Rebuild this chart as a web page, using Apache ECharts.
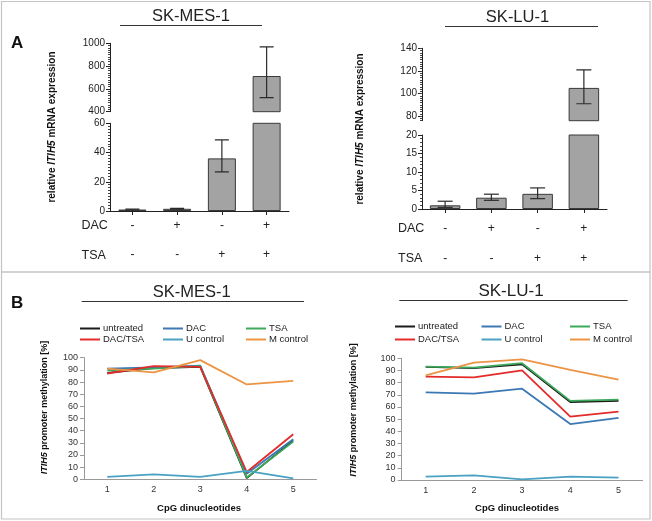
<!DOCTYPE html>
<html><head><meta charset="utf-8">
<script src="https://cdn.jsdelivr.net/npm/echarts@6/dist/echarts.min.js"></script>
<style>html,body{margin:0;padding:0;background:#fff}#c{width:652px;height:521px}</style>
</head><body><div id="c"></div>
<script>
// ---- Panel A data ----
const conditions = ['untreated', 'DAC', 'TSA', 'DAC/TSA'];
const dacRow = ['-', '+', '-', '+'];
const tsaRow = ['-', '-', '+', '+'];
const mesExpr = [1.0, 1.5, 36, 713];
const mesErrLow = [0.7, 1.2, 26.7, 523];
const mesErrHigh = [1.3, 1.8, 48.6, 968];
const luExpr = [1.0, 3.05, 4.1, 105];
const luErrLow = [0.45, 2.35, 2.8, 91];
const luErrHigh = [2.1, 4.0, 5.7, 121];
const luUpperLabels = [80, 100, 120, 140];

// ---- Panel B data ----
const cpg = ['1', '2', '3', '4', '5'];
const seriesNames = ['untreated', 'DAC', 'TSA', 'DAC/TSA', 'U control', 'M control'];
const seriesColors = ['#1b1b1b', '#3c79b4', '#3daa5b', '#e32b2b', '#4aa1c3', '#ec9444'];
const mesUntreated = [87.5, 91.5, 92.5, 1, 32];
const mesDAC = [91, 92, 93.5, 4.5, 33];
const mesTSA = [89.5, 91, 93, 1.5, 31];
const mesDACTSA = [87, 93, 92.5, 6, 37];
const mesU = [2, 4, 2, 7, 0.8];
const mesM = [91, 88, 98, 78, 81];
const luUntreated = [93, 92, 95, 64, 65];
const luDAC = [72, 71, 75, 46, 51];
const luTSA = [93.2, 92.3, 96, 65, 66];
const luDACTSA = [85, 84.4, 90, 52, 56.2];
const luU = [2.7, 3.8, 0.5, 2.7, 1.9];
const luM = [86, 96.4, 99.2, 90.4, 82.5];

const FONT = "'Liberation Sans', Arial, Helvetica, sans-serif";
const chart = echarts.init(document.getElementById('c'), null, {renderer: 'canvas'});

function errSeries(xi, yi, low, high, capW) {
  return {
    type: 'custom', xAxisIndex: xi, yAxisIndex: yi, clip: true, z: 5, silent: true,
    data: low.map((l, i) => [i, l, high[i]]),
    encode: {x: 0, y: [1, 2]},
    renderItem(params, api) {
      const lo = api.coord([api.value(0), api.value(1)]);
      const hi = api.coord([api.value(0), api.value(2)]);
      const cx = lo[0];
      const st = {stroke: '#2a2a2a', lineWidth: 1.2};
      return {type: 'group', children: [
        {type: 'line', shape: {x1: cx, y1: lo[1], x2: cx, y2: hi[1]}, style: st},
        {type: 'line', shape: {x1: cx - capW / 2, y1: lo[1], x2: cx + capW / 2, y2: lo[1]}, style: st},
        {type: 'line', shape: {x1: cx - capW / 2, y1: hi[1], x2: cx + capW / 2, y2: hi[1]}, style: st}
      ]};
    }
  };
}
function barSeries(xi, yi, data, w) {
  return {type: 'bar', xAxisIndex: xi, yAxisIndex: yi, data: data, barWidth: w, clip: true, silent: true,
    itemStyle: {color: '#a3a3a3', borderColor: '#3a3a3a', borderWidth: 1}};
}
function lineSeries(xi, yi, name, data) {
  const idx = seriesNames.indexOf(name);
  return {type: 'line', name: name, xAxisIndex: xi, yAxisIndex: yi, data: data, symbol: 'none', silent: true,
    lineStyle: {width: 1.8, color: seriesColors[idx]}, itemStyle: {color: seriesColors[idx]}, z: 3 + idx * 0.01};
}

const axisBlack = {lineStyle: {color: '#222', width: 1}};
const lblA = {fontSize: 10, color: '#222', margin: 5, fontFamily: FONT, formatter: v => String(v)};
function xCatA(gi, show, lh, margin) {
  return {type: 'category', gridIndex: gi, data: conditions, show: show,
    axisLine: axisBlack, axisTick: {show: true, alignWithLabel: true, length: 4, lineStyle: {color: '#222'}},
    axisLabel: {interval: 0, margin: margin, fontFamily: FONT,
      formatter: (v, i) => '{a|' + dacRow[i] + '}\n{a|' + tsaRow[i] + '}',
      rich: {a: {fontSize: 12, lineHeight: lh, color: '#222', fontFamily: FONT}}}};
}
function xCatB(gi) {
  return {type: 'category', gridIndex: gi, data: cpg, boundaryGap: true,
    axisLine: {lineStyle: {color: '#999', width: 1}}, axisTick: {length: 4, lineStyle: {color: '#999'}},
    axisLabel: {fontSize: 9, color: '#333', margin: 6, fontFamily: FONT}};
}
function yB(gi) {
  return {type: 'value', gridIndex: gi, min: 0, max: 100, interval: 10,
    axisLine: {show: true, lineStyle: {color: '#999', width: 1}}, axisTick: {show: true, length: 4, lineStyle: {color: '#999'}},
    splitLine: {show: false}, axisLabel: {fontSize: 9, color: '#333', margin: 6, fontFamily: FONT}};
}

const legendPos = [
  ['untreated', 80, 323.5, 395, 321.5],
  ['DAC', 163, 323.5, 481.5, 321.5],
  ['TSA', 246, 323.5, 570, 321.5],
  ['DAC/TSA', 80, 334.5, 395, 334.5],
  ['U control', 163, 334.5, 481.5, 334.5],
  ['M control', 246, 334.5, 570, 334.5]
];
const legends = [];
legendPos.forEach(p => {
  const base = {data: [p[0]], icon: 'rect', itemWidth: 20, itemHeight: 2, padding: 0, selectedMode: false,
    textStyle: {fontSize: 9.5, color: '#222', fontFamily: FONT, padding: [0, 0, 0, -2]}};
  legends.push(Object.assign({left: p[1], top: p[2]}, base));
  legends.push(Object.assign({left: p[3], top: p[4]}, base));
});

const titleStyle = {fontSize: 16.5, fill: '#222', fontFamily: FONT, align: 'center', verticalAlign: 'middle'};
const richA = {b: {fontSize: 10, fontWeight: 'bold', fill: '#111', fontFamily: FONT}, i: {fontSize: 10, fontWeight: 'bold', fontStyle: 'italic', fill: '#111', fontFamily: FONT}};
const richB = {b: {fontSize: 9, fontWeight: 'bold', fill: '#111', fontFamily: FONT}, i: {fontSize: 9, fontWeight: 'bold', fontStyle: 'italic', fill: '#111', fontFamily: FONT}};
const option = {
  animation: false,
  textStyle: {fontFamily: FONT},
  grid: [
    {left: 110, top: 43.3, width: 179, height: 68.4},
    {left: 110, top: 123.3, width: 179, height: 87.7},
    {left: 422, top: 48.3, width: 185, height: 72.4},
    {left: 422, top: 135, width: 185, height: 74},
    {left: 84, top: 357.7, width: 232.5, height: 121.6},
    {left: 401.6, top: 358.3, width: 241, height: 121.7}
  ],
  xAxis: [
    xCatA(0, false, 29, 0.5),
    xCatA(1, true, 29, 0.5),
    xCatA(2, false, 30, 5),
    xCatA(3, true, 30, 5),
    xCatB(4),
    xCatB(5)
  ],
  yAxis: [
    {type: 'value', gridIndex: 0, position: 'left', min: 400, max: 1000, interval: 200, axisLine: Object.assign({show: true}, axisBlack),
      axisTick: {show: true, length: 4, lineStyle: {color: '#222'}}, minorTick: {show: true, splitNumber: 10, length: 2, lineStyle: {color: '#444'}},
      splitLine: {show: false}, axisLabel: lblA},
    {type: 'value', gridIndex: 1, position: 'left', min: 0, max: 60, interval: 20, axisLine: Object.assign({show: true}, axisBlack),
      axisTick: {show: true, length: 4, lineStyle: {color: '#222'}}, minorTick: {show: true, splitNumber: 10, length: 2, lineStyle: {color: '#444'}},
      splitLine: {show: false}, axisLabel: lblA},
    {type: 'value', gridIndex: 2, position: 'left', min: 76, max: 140, axisLine: Object.assign({show: true}, axisBlack),
      axisTick: {show: true, length: 4, customValues: luUpperLabels, lineStyle: {color: '#222'}},
      splitLine: {show: false}, axisLabel: Object.assign({customValues: luUpperLabels}, lblA)},
    {type: 'value', gridIndex: 2, position: 'left', offset: 0, min: 76, max: 140, interval: 2, axisLine: {show: false},
      axisTick: {show: true, length: 2, lineStyle: {color: '#444'}}, splitLine: {show: false}, axisLabel: {show: false}},
    {type: 'value', gridIndex: 3, position: 'left', min: 0, max: 20, interval: 5, axisLine: Object.assign({show: true}, axisBlack),
      axisTick: {show: true, length: 4, lineStyle: {color: '#222'}}, minorTick: {show: true, splitNumber: 5, length: 2, lineStyle: {color: '#444'}},
      splitLine: {show: false}, axisLabel: lblA},
    yB(4),
    yB(5)
  ],
  legend: legends,
  series: [
    barSeries(0, 0, mesExpr, 28), barSeries(1, 1, mesExpr, 28),
    errSeries(0, 0, mesErrLow, mesErrHigh, 14), errSeries(1, 1, mesErrLow, mesErrHigh, 14),
    barSeries(2, 2, luExpr, 30.5), barSeries(3, 4, luExpr, 30.5),
    errSeries(2, 2, luErrLow, luErrHigh, 15), errSeries(3, 4, luErrLow, luErrHigh, 15),
    lineSeries(4, 5, 'untreated', mesUntreated), lineSeries(4, 5, 'DAC', mesDAC), lineSeries(4, 5, 'TSA', mesTSA),
    lineSeries(4, 5, 'DAC/TSA', mesDACTSA), lineSeries(4, 5, 'U control', mesU), lineSeries(4, 5, 'M control', mesM),
    lineSeries(5, 6, 'untreated', luUntreated), lineSeries(5, 6, 'DAC', luDAC), lineSeries(5, 6, 'TSA', luTSA),
    lineSeries(5, 6, 'DAC/TSA', luDACTSA), lineSeries(5, 6, 'U control', luU), lineSeries(5, 6, 'M control', luM)
  ],
  graphic: [
    {type: 'rect', shape: {x: 1.5, y: 1.5, width: 648.5, height: 270.5}, style: {fill: 'none', stroke: '#c4c4c4', lineWidth: 1.2}, silent: true},
    {type: 'rect', shape: {x: 1.5, y: 272, width: 648.5, height: 247}, style: {fill: 'none', stroke: '#c4c4c4', lineWidth: 1.2}, silent: true},
    {type: 'text', x: 11, y: 43, style: {text: 'A', fontSize: 17, fontWeight: 'bold', fill: '#111', fontFamily: FONT, verticalAlign: 'middle'}},
    {type: 'text', x: 11, y: 303, style: {text: 'B', fontSize: 17, fontWeight: 'bold', fill: '#111', fontFamily: FONT, verticalAlign: 'middle'}},
    {type: 'text', x: 191, y: 16.5, style: Object.assign({text: 'SK-MES-1'}, titleStyle)},
    {type: 'line', shape: {x1: 120, y1: 25.5, x2: 262, y2: 25.5}, style: {stroke: '#333', lineWidth: 1}},
    {type: 'text', x: 517.5, y: 17.5, style: Object.assign({text: 'SK-LU-1'}, titleStyle)},
    {type: 'line', shape: {x1: 445, y1: 26.5, x2: 598, y2: 26.5}, style: {stroke: '#333', lineWidth: 1}},
    {type: 'text', x: 191.7, y: 292, style: Object.assign({text: 'SK-MES-1'}, titleStyle)},
    {type: 'line', shape: {x1: 81.7, y1: 301.5, x2: 304, y2: 301.5}, style: {stroke: '#333', lineWidth: 1}},
    {type: 'text', x: 511, y: 291.5, style: Object.assign({text: 'SK-LU-1'}, titleStyle, {fontSize: 17})},
    {type: 'line', shape: {x1: 399.3, y1: 300.5, x2: 627.7, y2: 300.5}, style: {stroke: '#333', lineWidth: 1}},
    {type: 'text', x: 81.5, y: 226, style: {text: 'DAC', fontSize: 12.5, fill: '#222', fontFamily: FONT, verticalAlign: 'middle'}},
    {type: 'text', x: 81.5, y: 255.5, style: {text: 'TSA', fontSize: 12.5, fill: '#222', fontFamily: FONT, verticalAlign: 'middle'}},
    {type: 'text', x: 398, y: 229, style: {text: 'DAC', fontSize: 12.5, fill: '#222', fontFamily: FONT, verticalAlign: 'middle'}},
    {type: 'text', x: 398, y: 259, style: {text: 'TSA', fontSize: 12.5, fill: '#222', fontFamily: FONT, verticalAlign: 'middle'}},
    {type: 'text', x: 52, y: 127, rotation: Math.PI / 2, style: {text: '{b|relative }{i|ITIH5}{b| mRNA expression}', align: 'center', verticalAlign: 'middle', rich: richA}},
    {type: 'text', x: 360, y: 129, rotation: Math.PI / 2, style: {text: '{b|relative }{i|ITIH5}{b| mRNA expression}', align: 'center', verticalAlign: 'middle', rich: richA}},
    {type: 'text', x: 44.5, y: 407.5, rotation: Math.PI / 2, style: {text: '{i|ITIH5}{b| promoter methylation [%]}', align: 'center', verticalAlign: 'middle', rich: richB}},
    {type: 'text', x: 353.5, y: 410, rotation: Math.PI / 2, style: {text: '{i|ITIH5}{b| promoter methylation [%]}', align: 'center', verticalAlign: 'middle', rich: richB}},
    {type: 'text', x: 199, y: 508.5, style: {text: 'CpG dinucleotides', fontSize: 9.5, fontWeight: 'bold', fill: '#111', fontFamily: FONT, align: 'center', verticalAlign: 'middle'}},
    {type: 'text', x: 517, y: 508.5, style: {text: 'CpG dinucleotides', fontSize: 9.5, fontWeight: 'bold', fill: '#111', fontFamily: FONT, align: 'center', verticalAlign: 'middle'}}
  ]
};
chart.setOption(option);
</script></body></html>
